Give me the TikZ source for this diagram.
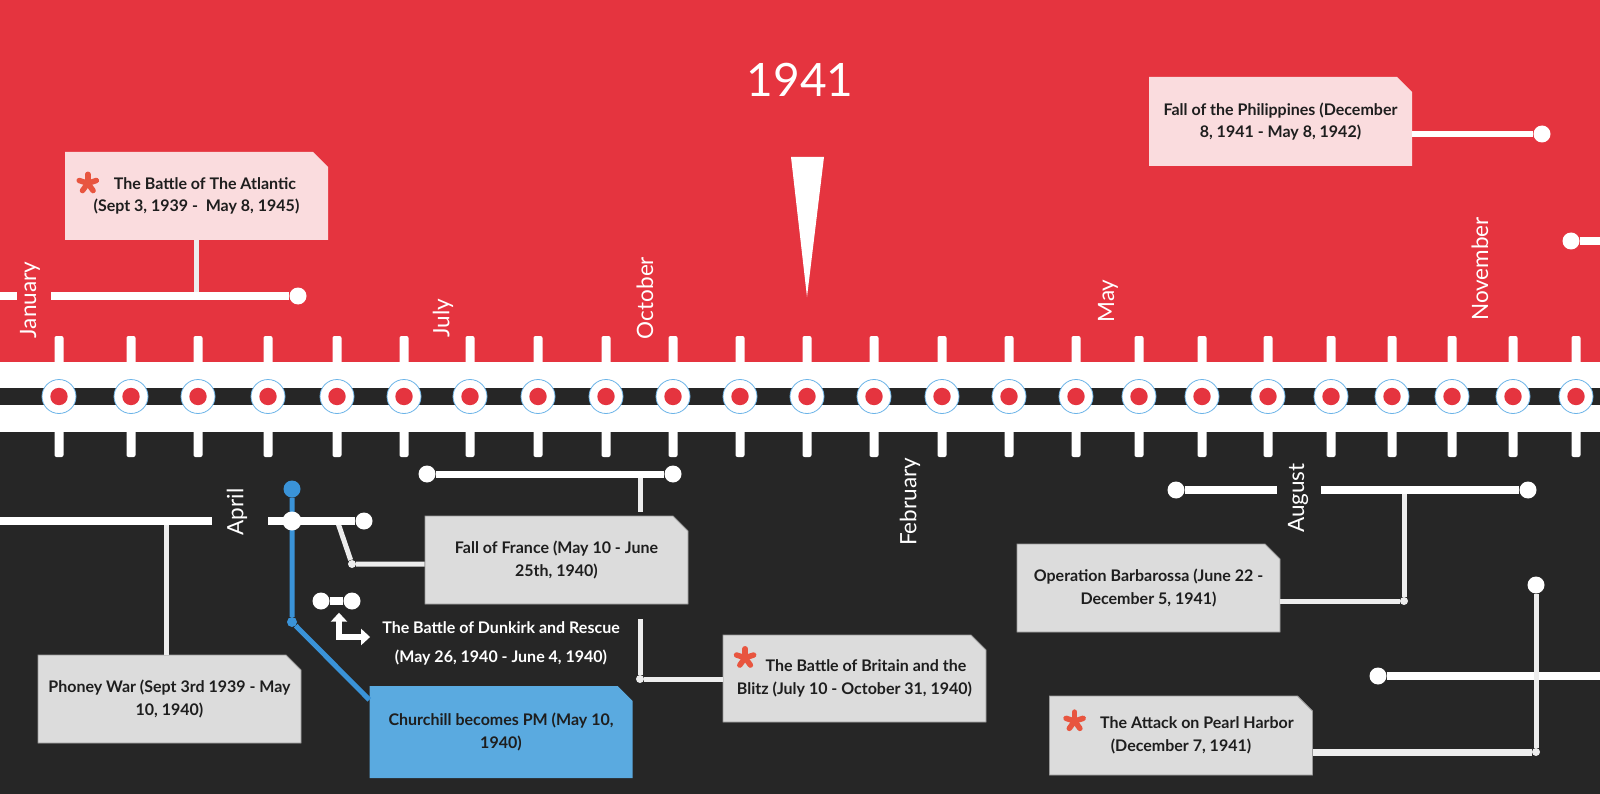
\documentclass[tikz,border=0pt]{standalone}
\usepackage{fontspec}
\setmainfont{Lato}
\newfontfamily\boxfont{Lato}
\usetikzlibrary{arrows.meta,calc,positioning,shapes.misc}

\definecolor{warred}{HTML}{E5343F}
\definecolor{warblack}{HTML}{262626}
\definecolor{tagpink}{HTML}{FADCDE}
\definecolor{taggray}{HTML}{DCDCDC}
\definecolor{tagblue}{HTML}{5AAAE0}
\definecolor{pmblue}{HTML}{3A93D8}
\definecolor{stopblue}{HTML}{6CB4E8}
\definecolor{starred}{HTML}{E8553F}
\definecolor{stemgray}{HTML}{EDEDED}
\definecolor{tagtext}{HTML}{1E1E1E}

\tikzset{
  tag/.style={chamfered rectangle, chamfered rectangle corners=north east,
    chamfered rectangle xsep=7.5pt, chamfered rectangle ysep=7.5pt,
    minimum width=263pt, minimum height=88pt, inner sep=0pt, align=center,
    text=tagtext, font=\boxfont\bfseries\fontsize{16}{22.5}\selectfont},
  graytag/.style={tag, fill=taggray, draw=black!40, line width=0.8pt},
  pinktag/.style={tag, fill=tagpink},
  month/.style={text=white, font=\fontsize{22.5}{22.5}\selectfont, rotate=90,
    inner sep=0pt},
  stopmark/.style={circle, fill=white, draw=stopblue, line width=0.8pt,
    minimum size=34pt, inner sep=0pt,
    path picture={\fill[warred] (path picture bounding box.center) circle[radius=8.7pt];}},
  enddot/.style={circle, fill=white, inner sep=0pt, minimum size=17pt},
  jointdot/.style={circle, fill=stemgray, inner sep=0pt, minimum size=8pt},
  barline/.style={white, line width=8pt},
  stemline/.style={stemgray, line width=5pt},
  pmline/.style={pmblue, line width=5pt},
  % red five-armed mark of the key events
  redstar/.pic={
    \foreach \a in {90,162,234,306,18}
      \draw[starred, line width=5.5pt, line cap=round] (0,0) -- (\a:9pt);
  }
}

\begin{document}
\begin{tikzpicture}[x=1pt,y=-1pt]
  \useasboundingbox (0,0) rectangle (1600,794);

  % Red sky, white rail, dark ground
  \fill[warred] (0,0) rectangle (1600,362);
  \fill[white] (0,362) rectangle (1600,432);
  \fill[warblack] (0,432) rectangle (1600,794);
  \fill[warblack] (0,388) rectangle (1600,405);

  % Ticks and stops
  \foreach \x [count=\i] in {59,131,198,268,337,404,470,538,606,673,740,807,
      874,942,1009,1076,1139,1202,1268,1331,1392,1452,1513,1576} {
    \fill[white, rounded corners=2pt] (\x-4.5,336) rectangle (\x+4.5,366);
    \fill[white, rounded corners=2pt] (\x-4.5,428) rectangle (\x+4.5,457);
    \node[stopmark] (stop\i) at (\x,396.5) {};
  }

  % Year and pointer
  \node[text=white, font=\fontsize{46}{46}\selectfont] (year) at (800,80) {1941};
  \fill[white] (791,157) -- (824,157) -- (807,297) -- cycle;

  % Months
  \node[month] (jan) at (30,300) {January};
  \node[month] (jul) at (443,318) {July};
  \node[month] (oct) at (645,298) {October};
  \node[month] (may) at (1108,301) {May};
  \node[month] (nov) at (1480,269) {November};
  \node[month] (apr) at (237,512) {April};
  \node[month] (feb) at (910,502) {February};
  \node[month] (aug) at (1298,498) {August};

  % Event tags
  \node[pinktag] (atl) at (196.5,196)
    {\hspace*{17pt}The Battle of The Atlantic\\(Sept 3, 1939 -\ \ May 8, 1945)};
  \node[pinktag, minimum height=89pt] (phil) at (1280.5,121.5)
    {Fall of the Philippines (December\\8, 1941 - May 8, 1942)};
  \node[graytag] (phoney) at (169.5,699)
    {Phoney War (Sept 3rd 1939 - May\\10, 1940)};
  \node[graytag] (france) at (556.5,560)
    {Fall of France (May 10 - June\\25th, 1940)};
  \node[tag, fill=tagblue, minimum height=92pt] (church) at (501,732)
    {Churchill becomes PM (May 10,\\1940)};
  \node[graytag, minimum height=87pt] (britain) at (854.5,678.5)
    {\hspace*{23pt}The Battle of Britain and the\\Blitz (July 10 - October 31, 1940)};
  \node[graytag] (barb) at (1148.5,588)
    {Operation Barbarossa (June 22 -\\December 5, 1941)};
  \node[graytag, minimum height=79pt] (pearl) at (1181,735.5)
    {\hspace*{32pt}The Attack on Pearl Harbor\\(December 7, 1941)};

  \pic (atl-star) at ([shift={(23,31.5)}]atl.north west) {redstar};
  \pic (bb-star) at ([shift={(22.5,23.2)}]britain.north west) {redstar};
  \pic (ph-star) at ([shift={(25.5,25.5)}]pearl.north west) {redstar};

  % Atlantic
  \coordinate (atl-l) at (51,296);
  \node[enddot] (atl-dot) at (298,296) {};
  \draw[stemline] (atl.south) -- (atl.south |- atl-dot);
  \draw[barline] (atl-l) -- (atl-dot);
  \draw[barline] (0,296) -- (17,296);

  % Philippines
  \node[enddot] (phil-dot) at (1542,134) {};
  \draw[white, line width=6pt] (phil-dot -| phil.east) -- (phil-dot);
  \node[enddot] (edge-dot) at (1571,241) {};
  \draw[barline] (edge-dot) -- (1600,241);

  % Phoney War
  \coordinate (pw-top) at (166,521);
  \coordinate (pw-r) at (212,521);
  \draw[stemline] (pw-top) -- (pw-top |- phoney.north);
  \draw[barline] (0,521) -- (pw-r);

  % April: Churchill and France
  \node[enddot, fill=pmblue] (cb-top) at (292,489) {};
  \node[circle, fill=pmblue, inner sep=0pt, minimum size=10pt] (cb-bend) at (292,622) {};
  \draw[pmline] (cb-top) -- (cb-bend) -- ([yshift=-14pt]church.north west);
  \coordinate (apr-l) at (268,521);
  \coordinate (apr-fork) at (338,523);
  \node[jointdot] (ff-bend) at (352,564) {};
  \draw[stemline] (apr-fork) -- (ff-bend) -- (ff-bend -| france.west);
  \node[enddot] (apr-dot) at (364,521) {};
  \draw[barline] (apr-l) -- (apr-dot);
  \node[enddot, minimum size=19pt] (apr-hub) at (292,521) {};

  % France top
  \node[enddot] (ff-a) at (427,474) {};
  \node[enddot] (ff-b) at (673,474) {};
  \coordinate (ff-top) at (640,474);
  \draw[stemline] (ff-top) -- ([yshift=4pt]ff-top |- france.north);
  \draw[barline, line width=7pt] (ff-a) -- (ff-b);

  % France to Britain
  \coordinate (ff-low) at (640,619);
  \node[jointdot] (bb-bend) at (640,679) {};
  \draw[stemline] (ff-low) -- (bb-bend) -- (bb-bend -| britain.west);

  % Dunkirk
  \node[enddot] (dk-a) at (321,601) {};
  \node[enddot] (dk-b) at (352,601) {};
  \draw[barline, line width=8pt] (dk-a) -- (dk-b);
  \node[text=white, font=\boxfont\bfseries\fontsize{16}{22}\selectfont, align=center,
    inner sep=0pt] (dk-text) at (501,643)
    {The Battle of Dunkirk and Rescue\\[7pt](May 26, 1940 - June 4, 1940)};
  \coordinate (dk-turn) at (339,637);
  \draw[white, line width=6.5pt, {Triangle[width=16pt,length=9pt]}-{Triangle[width=16pt,length=9pt]}]
    ([yshift=-3pt]dk-a.south -| dk-turn) -- (dk-turn) -- ([xshift=-12pt]dk-turn -| dk-text.west);

  % Barbarossa
  \node[enddot] (ob-a) at (1176,490) {};
  \coordinate (ob-gap1) at (1277,490);
  \coordinate (ob-gap2) at (1321,490);
  \node[enddot] (ob-b) at (1528,490) {};
  \node[jointdot] (ob-bend) at (1404,601) {};
  \draw[stemline] (ob-bend -| barb.east) -- (ob-bend) -- (ob-bend |- ob-b);
  \draw[barline] (ob-a) -- (ob-gap1);
  \draw[barline] (ob-gap2) -- (ob-b);

  % Pearl Harbor
  \node[enddot] (ph-bar) at (1378,676) {};
  \draw[barline] (ph-bar) -- (1600,676);
  \node[enddot] (ph-dot) at (1536,585) {};
  \node[jointdot] (ph-bend) at (1536,752) {};
  \draw[stemline, line width=7pt] (ph-bend -| pearl.east) -- (ph-bend);
  \draw[stemline] (ph-bend) -- (ph-dot);
\end{tikzpicture}
\end{document}
